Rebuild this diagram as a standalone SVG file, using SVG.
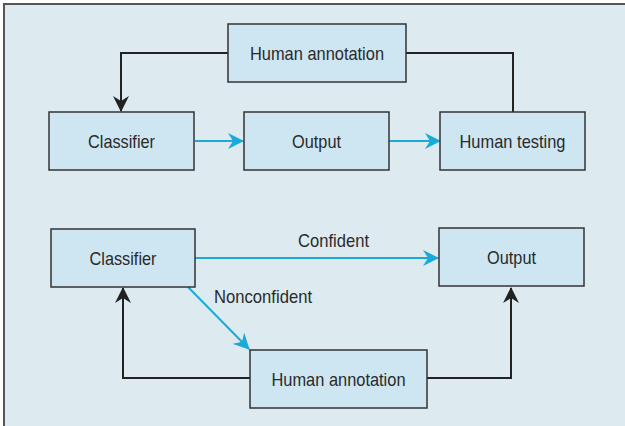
<svg xmlns="http://www.w3.org/2000/svg" width="625" height="426" viewBox="0 0 625 426">
<defs>
<style>
.node rect{fill:#cde6f2;stroke:#333;stroke-width:1.5}
.node text{font-family:"Liberation Sans",Arial,sans-serif;font-size:19px;fill:#2a2a2a;text-anchor:middle;dominant-baseline:central}
.lbl{font-family:"Liberation Sans",Arial,sans-serif;font-size:19px;fill:#2a2a2a}
.blue{stroke:#1aaad8;stroke-width:2;fill:none}
.black{stroke:#222;stroke-width:2;fill:none}
</style>
<marker id="ab" viewBox="0 0 16 16" refX="15" refY="8" markerWidth="16" markerHeight="16" markerUnits="userSpaceOnUse" orient="auto"><path d="M0,0 L16,8 L0,16 L5,8 Z" fill="#1aaad8"/></marker>
<marker id="ak" viewBox="0 0 16 16" refX="15" refY="8" markerWidth="16" markerHeight="16" markerUnits="userSpaceOnUse" orient="auto"><path d="M0,0 L16,8 L0,16 L5,8 Z" fill="#222"/></marker>
</defs>
<rect x="0" y="0" width="625" height="426" fill="#ffffff"/>
<rect x="4" y="4" width="625" height="430" fill="#ddeaf0" stroke="#555" stroke-width="2"/>
<g id="connectors">
<line class="blue" x1="195" y1="141" x2="243" y2="141" marker-end="url(#ab)"/>
<line class="blue" x1="389" y1="141" x2="440" y2="141" marker-end="url(#ab)"/>
<polyline class="black" points="228,53 121,53 121,111" marker-end="url(#ak)"/>
<polyline class="black" points="406,53 513,53 513,112"/>
<line class="blue" x1="195" y1="258" x2="438" y2="258" marker-end="url(#ab)"/>
<line class="blue" x1="188" y1="287" x2="249" y2="349" marker-end="url(#ab)"/>
<polyline class="black" points="250,378 123,378 123,288" marker-end="url(#ak)"/>
<polyline class="black" points="427,378 511,378 511,288" marker-end="url(#ak)"/>
<text class="lbl" x="298" y="247" textLength="71" lengthAdjust="spacingAndGlyphs">Confident</text>
<text class="lbl" x="214" y="303" textLength="98" lengthAdjust="spacingAndGlyphs">Nonconfident</text>
</g>
<g id="n1" class="node"><rect x="228" y="24" width="178" height="58"/><text x="317" y="53" textLength="134" lengthAdjust="spacingAndGlyphs">Human annotation</text></g>
<g id="n2" class="node"><rect x="49" y="112" width="145" height="58"/><text x="121.5" y="141" textLength="67" lengthAdjust="spacingAndGlyphs">Classifier</text></g>
<g id="n3" class="node"><rect x="244" y="112" width="145" height="58"/><text x="316.5" y="141" textLength="49" lengthAdjust="spacingAndGlyphs">Output</text></g>
<g id="n4" class="node"><rect x="440" y="112" width="145" height="58"/><text x="512.5" y="141" textLength="106" lengthAdjust="spacingAndGlyphs">Human testing</text></g>
<g id="n5" class="node"><rect x="51" y="229" width="144" height="58"/><text x="123" y="258" textLength="67" lengthAdjust="spacingAndGlyphs">Classifier</text></g>
<g id="n6" class="node"><rect x="439" y="228" width="145" height="58"/><text x="511.5" y="257" textLength="49" lengthAdjust="spacingAndGlyphs">Output</text></g>
<g id="n7" class="node"><rect x="250" y="350" width="177" height="58"/><text x="338.5" y="379" textLength="134" lengthAdjust="spacingAndGlyphs">Human annotation</text></g>
</svg>
